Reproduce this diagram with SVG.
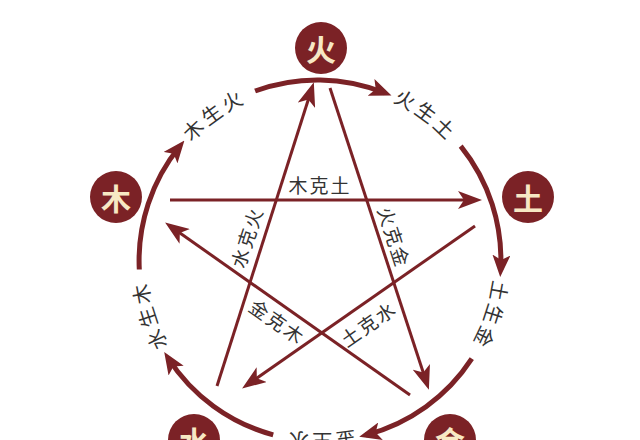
<svg xmlns="http://www.w3.org/2000/svg" width="640" height="440" viewBox="0 0 640 440">
<style>
.node circle{fill:#7b2226}
.node text{fill:#f7e8c4;font-family:"Noto Sans CJK SC","Noto Sans",sans-serif;font-size:30px;font-weight:bold;text-anchor:middle;dominant-baseline:central}
.arc{fill:none;stroke:#7b2226;stroke-width:5;marker-end:url(#ah)}
.star{fill:none;stroke:#7b2226;stroke-width:3;marker-end:url(#sh)}
.lbl{fill:#333;font-family:"Noto Sans CJK SC","Noto Sans",sans-serif;font-size:20px;letter-spacing:4px}
.sl{fill:#333;font-family:"Noto Sans CJK SC","Noto Sans",sans-serif;font-size:19px;letter-spacing:2px;text-anchor:middle;dominant-baseline:central}
</style>
<defs>
<marker id="ah" viewBox="0 0 22 18" refX="15" refY="9" markerWidth="22" markerHeight="18" orient="auto" markerUnits="userSpaceOnUse"><path d="M0,0 L22,9 L0,18 L5,9 Z" fill="#7b2226"/></marker>
<marker id="sh" viewBox="0 0 24 18" refX="18" refY="9" markerWidth="24" markerHeight="18" orient="auto" markerUnits="userSpaceOnUse"><path d="M0,0 L24,9 L0,18 L6,9 Z" fill="#7b2226"/></marker>
<path id="ring" d="M501,260 A181,181 0 1 1 139,260 A181,181 0 1 1 501,260"/>
</defs>
<rect width="640" height="440" fill="#fff"/>
<g id="connectors">
<path class="arc" d="M255.1,91 A181,181 0 0 1 385,93"/>
<path class="arc" d="M460.7,146.1 A181,181 0 0 1 500.6,270"/>
<path class="arc" d="M471.8,358.6 A181,181 0 0 1 366,435"/>
<path class="arc" d="M273.2,434.8 A181,181 0 0 1 168,358"/>
<path class="arc" d="M139.3,269.5 A181,181 0 0 1 180,146"/>
<line class="star" x1="170" y1="200" x2="476" y2="200"/>
<line class="star" x1="330" y1="88" x2="427" y2="384"/>
<line class="star" x1="475" y1="226" x2="247" y2="385"/>
<line class="star" x1="217" y1="386" x2="312" y2="88"/>
<line class="star" x1="410" y1="395" x2="170" y2="226"/>
</g>
<g id="ring-labels">
<text class="lbl" dy="7"><textPath href="#ring" startOffset="739" text-anchor="middle">木生火</textPath></text>
<text class="lbl" dy="7"><textPath href="#ring" startOffset="967" text-anchor="middle">火生土</textPath></text>
<text class="lbl" dy="7"><textPath href="#ring" startOffset="57" text-anchor="middle">土生金</textPath></text>
<text class="lbl" dy="7"><textPath href="#ring" startOffset="284" text-anchor="middle">金生水</textPath></text>
<text class="lbl" dy="7"><textPath href="#ring" startOffset="512" text-anchor="middle">水生木</textPath></text>
</g>
<g id="star-labels">
<text class="sl" x="320" y="184">木克土</text>
<text class="sl" transform="translate(246,237) rotate(-72)">水克火</text>
<text class="sl" transform="translate(395,237) rotate(72)">火克金</text>
<text class="sl" transform="translate(278,321) rotate(35)">金克木</text>
<text class="sl" transform="translate(368,323) rotate(-35)">土克水</text>
</g>
<g id="node-huo" class="node"><circle cx="321" cy="48" r="26"/><text x="321" y="48">火</text></g>
<g id="node-tu" class="node"><circle cx="528" cy="197" r="26"/><text x="528" y="197">土</text></g>
<g id="node-jin" class="node"><circle cx="450" cy="440" r="26"/><text x="450" y="440">金</text></g>
<g id="node-shui" class="node"><circle cx="194" cy="440" r="26"/><text x="194" y="440">水</text></g>
<g id="node-mu" class="node"><circle cx="116" cy="197" r="26"/><text x="116" y="197">木</text></g>
</svg>
